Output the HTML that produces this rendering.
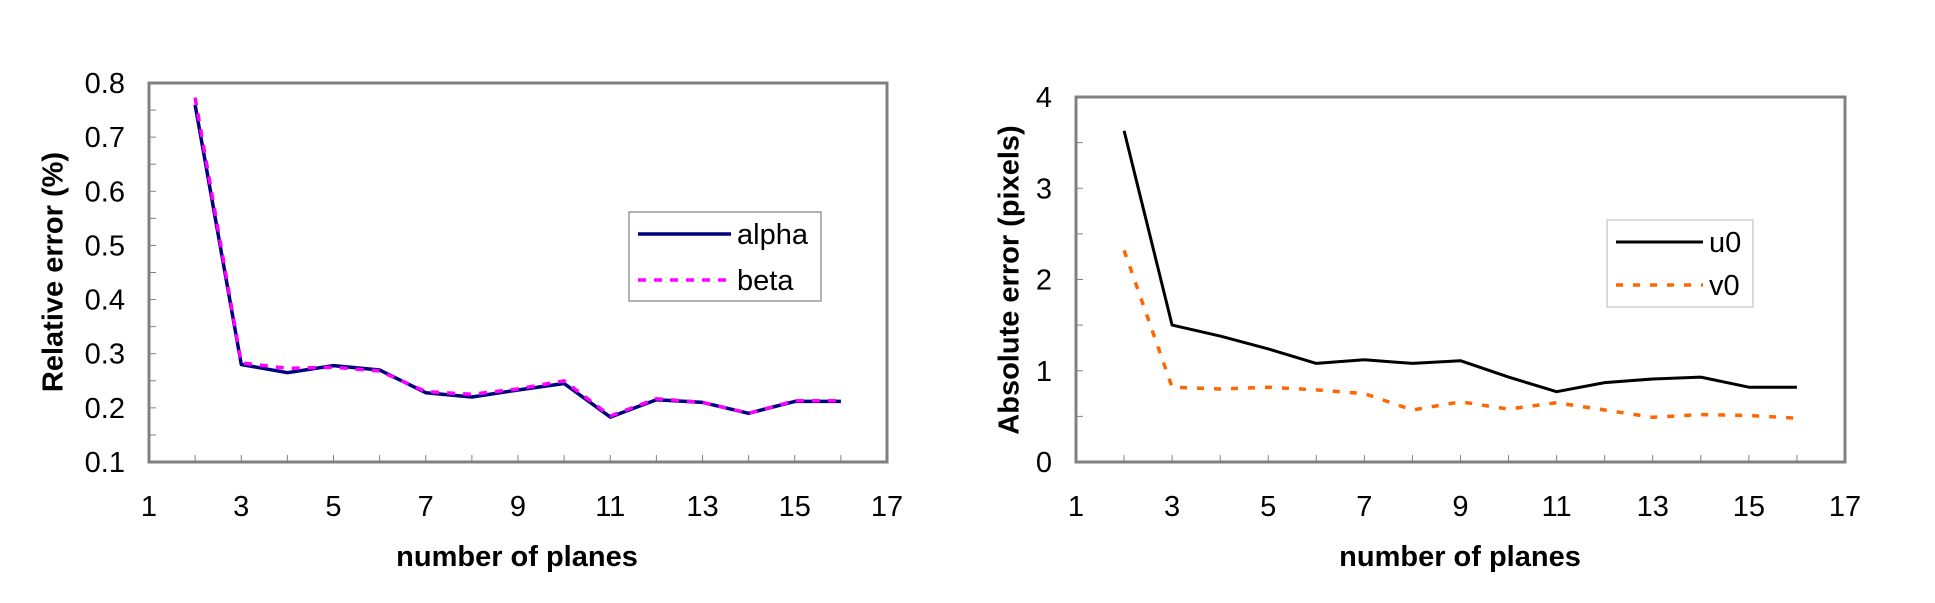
<!DOCTYPE html>
<html><head><meta charset="utf-8"><style>
html,body{margin:0;padding:0;background:#fff;}
svg{display:block;font-family:"Liberation Sans",Arial,sans-serif;}
</style></head><body>
<svg id="s" width="1935" height="603" viewBox="0 0 1935 603" xmlns="http://www.w3.org/2000/svg">
<rect width="1935" height="603" fill="#fff"/>
<g id="g"></g>
<text x="55" y="272" font-size="29" font-weight="bold" text-anchor="middle" transform="rotate(-90 55 272)" dominant-baseline="middle">Relative error (%)</text>
<text x="517" y="566" font-size="29" font-weight="bold" text-anchor="middle">number of planes</text>
<text x="1011" y="280" font-size="29" font-weight="bold" text-anchor="middle" transform="rotate(-90 1011 280)" dominant-baseline="middle">Absolute error (pixels)</text>
<text x="1460" y="566" font-size="29" font-weight="bold" text-anchor="middle">number of planes</text>
<rect x="629" y="212" width="192" height="89" fill="#fff" stroke="#808080" stroke-width="1.2"/>
<line x1="638" y1="234" x2="731" y2="234" stroke="#000080" stroke-width="3.5"/>
<line x1="638" y1="280" x2="731" y2="280" stroke="#ff00ff" stroke-width="3.5" stroke-dasharray="8,8"/>
<text x="737" y="244" font-size="29">alpha</text>
<text x="737" y="290" font-size="29">beta</text>
<rect x="1607" y="220" width="146" height="87" fill="#fff" stroke="#c0c0c0" stroke-width="1.2"/>
<line x1="1616" y1="242" x2="1703" y2="242" stroke="#000" stroke-width="3"/>
<line x1="1616" y1="285" x2="1703" y2="285" stroke="#ff6600" stroke-width="3.5" stroke-dasharray="7,10"/>
<text x="1709" y="252" font-size="29">u0</text>
<text x="1709" y="295" font-size="29">v0</text>
</svg>
<script>
var g=document.getElementById('g'),h='';
function chart(L,T,R,B,ymin,ymax,ystep,ydec,series){
  var xs=function(v){return L+(v-1)*(R-L)/16;},ys=function(v){return B-(v-ymin)*(B-T)/(ymax-ymin);};
  var n=Math.round((ymax-ymin)/ystep);
  for(var i=0;i<=2*n;i++){var y=B-i*(B-T)/(2*n);h+='<line x1="'+L+'" y1="'+y+'" x2="'+(L+7)+'" y2="'+y+'" stroke="#808080" stroke-width="1"/>';}
  for(var i=0;i<=n;i++){var v=ymin+i*ystep;h+='<text x="'+(L-24)+'" y="'+(ys(v)+10)+'" font-size="29" text-anchor="end">'+v.toFixed(ydec)+'</text>';}
  for(var k=1;k<=17;k++){var x=xs(k);h+='<line x1="'+x+'" y1="'+(B-7)+'" x2="'+x+'" y2="'+B+'" stroke="#808080" stroke-width="1"/>';
    if(k%2==1)h+='<text x="'+x+'" y="516" font-size="29" text-anchor="middle">'+k+'</text>';}
  h+='<rect x="'+L+'" y="'+T+'" width="'+(R-L)+'" height="'+(B-T)+'" fill="none" stroke="#808080" stroke-width="3"/>';
  series.forEach(function(s){var p=s.d.map(function(v,i){return xs(i+2).toFixed(1)+','+ys(v).toFixed(1);}).join(' ');
    h+='<polyline points="'+p+'" fill="none" stroke="'+s.c+'" stroke-width="'+s.w+'" '+(s.da?'stroke-dasharray="'+s.da+'"':'')+' stroke-linejoin="round"/>';});
}
chart(149,83,887,462,0.1,0.8,0.1,1,[
 {c:'#000080',w:3.5,d:[0.76,0.28,0.265,0.278,0.27,0.228,0.22,0.233,0.245,0.183,0.215,0.21,0.19,0.212,0.212]},
 {c:'#ff00ff',w:3.5,da:'8,8',d:[0.773,0.283,0.273,0.275,0.268,0.23,0.225,0.235,0.25,0.185,0.217,0.21,0.19,0.213,0.213]}]);
chart(1076,97,1845,462,0,4,1,0,[
 {c:'#000',w:3,d:[3.63,1.5,1.38,1.24,1.08,1.12,1.08,1.11,0.93,0.77,0.87,0.91,0.93,0.82,0.82]},
 {c:'#ff6600',w:3.5,da:'7,10',d:[2.32,0.82,0.80,0.82,0.79,0.75,0.57,0.66,0.58,0.65,0.57,0.49,0.52,0.51,0.48]}]);
g.innerHTML=h;
</script>
</body></html>
